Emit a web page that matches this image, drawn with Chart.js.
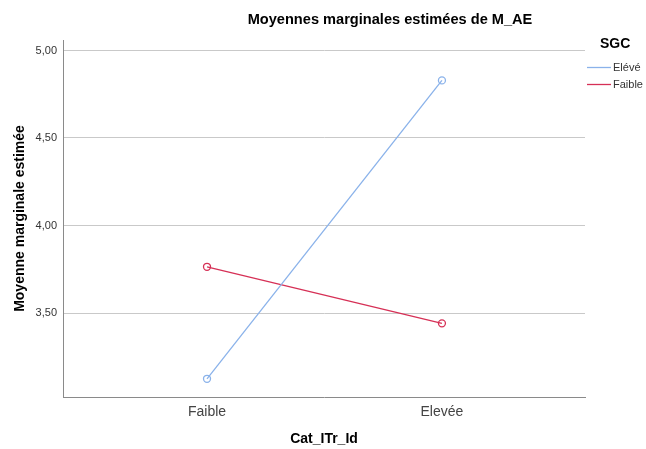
<!DOCTYPE html>
<html>
<head>
<meta charset="utf-8">
<script src="https://cdn.jsdelivr.net/npm/chart.js@4"></script>
<style>
  html, body { margin: 0; padding: 0; background: #fff; }
  #wrap { width: 646px; height: 449px; }
</style>
</head>
<body>
<div id="wrap"><canvas id="chart" width="646" height="449"></canvas></div>
<script>
const categories = ["Faible", "Elevée"];
const seriesNames = ["Elévé", "Faible"];
const eleveValues = [3.124, 4.829];
const faibleValues = [3.764, 3.441];
const yTicks = [3.5, 4.0, 4.5, 5.0];

const FONT = '"Liberation Sans", Arial, sans-serif';
const colors = {
  blue: "rgb(138, 178, 234)",
  red: "rgb(214, 48, 86)",
  grid: "#c9c9c9",
  axis: "#8a8a8a",
  text: "#333333",
};

const toPoints = (vals) => vals.map((v, i) => ({ x: i, y: v }));

// title + legend drawn by hand to match SPSS layout
const decorations = {
  id: "decorations",
  afterDraw(chart) {
    const ctx = chart.ctx;
    ctx.save();
    ctx.fillStyle = "#000";
    ctx.textBaseline = "middle";
    ctx.textAlign = "center";
    ctx.font = "bold 14.6px " + FONT;
    ctx.fillText("Moyennes marginales estimées de M_AE", 390, 20);

    ctx.textAlign = "left";
    ctx.font = "bold 14px " + FONT;
    ctx.fillText("SGC", 600, 44);

    ctx.font = "11px " + FONT;
    chart.data.datasets.forEach((ds, i) => {
      const y = 67 + i * 17;
      ctx.strokeStyle = ds.borderColor;
      ctx.lineWidth = 1.3;
      ctx.beginPath();
      ctx.moveTo(587, y + 0.5);
      ctx.lineTo(611, y + 0.5);
      ctx.stroke();
      ctx.fillStyle = colors.text;
      ctx.fillText(ds.label, 613, y + 1);
    });
    ctx.restore();
  },
};

const data = {
  datasets: [
    {
      label: seriesNames[0],
      data: toPoints(eleveValues),
      borderColor: colors.blue,
      backgroundColor: "rgba(0,0,0,0)",
      borderWidth: 1.3,
      pointRadius: 3.5,
      pointBorderWidth: 1.3,
      pointBackgroundColor: "rgba(0,0,0,0)",
      pointBorderColor: colors.blue,
    },
    {
      label: seriesNames[1],
      data: toPoints(faibleValues),
      borderColor: colors.red,
      backgroundColor: "rgba(0,0,0,0)",
      borderWidth: 1.3,
      pointRadius: 3.5,
      pointBorderWidth: 1.3,
      pointBackgroundColor: "rgba(0,0,0,0)",
      pointBorderColor: colors.red,
    },
  ],
};

const config = {
  type: "line",
  data: data,
  plugins: [decorations],
  options: {
    responsive: false,
    animation: false,
    layout: { padding: { left: 0, top: 40, right: 61, bottom: 0 } },
    plugins: {
      legend: { display: false },
      title: { display: false },
      tooltip: { enabled: false },
    },
    scales: {
      x: {
        type: "linear",
        min: -0.613,
        max: 1.609,
        afterBuildTicks: (scale) => {
          scale.ticks = categories.map((c, i) => ({ value: i }));
        },
        afterFit: (scale) => {
          scale.height = 52;
        },
        grid: { display: false, drawTicks: false },
        border: { display: true, color: colors.axis, width: 1 },
        ticks: {
          padding: 7,
          color: "#444",
          font: { family: FONT, size: 14 },
          callback: (v) => categories[v],
        },
        title: {
          display: true,
          text: "Cat_ITr_Id",
          color: "#000",
          font: { family: FONT, size: 14, weight: "bold" },
          padding: { top: 0, bottom: 1 },
        },
      },
      y: {
        min: 3.02,
        max: 5.06,
        afterBuildTicks: (scale) => {
          scale.ticks = yTicks.map((v) => ({ value: v }));
        },
        afterFit: (scale) => {
          scale.width = 63;
        },
        grid: { color: colors.grid, lineWidth: 1, drawTicks: false },
        border: { display: true, color: colors.axis, width: 1 },
        ticks: {
          padding: 6,
          color: colors.text,
          font: { family: FONT, size: 11 },
          callback: (v) => v.toFixed(2).replace(".", ","),
        },
        title: {
          display: true,
          text: "Moyenne marginale estimée",
          color: "#000",
          font: { family: FONT, size: 14, weight: "bold" },
          padding: { top: 12, bottom: 0 },
        },
      },
    },
  },
};

new Chart(document.getElementById("chart").getContext("2d"), config);
</script>
</body>
</html>
